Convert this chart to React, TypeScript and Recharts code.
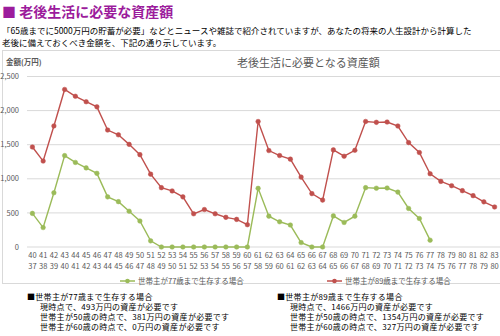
import { LineChart, Line, XAxis, YAxis, CartesianGrid, Legend } from 'recharts'

const ages = [
  40, 41, 42, 43, 44, 45, 46, 47, 48, 49, 50, 51, 52, 53, 54, 55, 56, 57, 58, 59, 60, 61,
  62, 63, 64, 65, 66, 67, 68, 69, 70, 71, 72, 73, 74, 75, 76, 77, 78, 79, 80, 81, 82, 83,
]
// second row of the tick labels (spouse age)
const spouseAges = [
  37, 38, 39, 40, 41, 42, 43, 44, 45, 46, 47, 48, 49, 50, 51, 52, 53, 54, 55, 56, 57, 58,
  59, 60, 61, 62, 63, 64, 65, 66, 67, 68, 69, 70, 71, 72, 73, 74, 75, 76, 77, 78, 79, 80,
]
const live77 = [
  493, 285, 795, 1340, 1240, 1160, 1080, 735, 665, 525, 381, 90, 0, 0, 0, 0, 0, 0, 0, 0, 0, 860,
  452, 370, 322, 65, 0, 0, 456, 360, 452, 870, 862, 865, 805, 565, 418, 100,
  null, null, null, null, null, null,
]
const live89 = [
  1466, 1260, 1775, 2310, 2210, 2130, 2055, 1715, 1645, 1505, 1354, 1068, 870, 822, 735, 487,
  549, 487, 435, 405, 327, 1840, 1414, 1341, 1288, 1025, 783, 688, 1424, 1331, 1418, 1841,
  1828, 1832, 1774, 1531, 1385, 1074, 962, 899, 826, 753, 662, 587,
]
const yTicks = [0, 500, 1000, 1500, 2000, 2500]

const RED = '#C0504D'
const GREEN = '#9BBB59'
const GRAY = '#595959'
const FONT = '"Noto Sans CJK JP", "Noto Sans", sans-serif'

const data = ages.map((a, i) => ({ age: a, spouse: spouseAges[i], live77: live77[i], live89: live89[i] }))

const AgeTick = ({ x, y, payload, index }: any) => (
  <text x={x} y={y} textAnchor="middle" fontSize={7.5} fill={GRAY} fontFamily={FONT}>
    <tspan x={x} dy={3}>{payload.value}</tspan>
    <tspan x={x} dy={11}>{spouseAges[index]}</tspan>
  </text>
)

const LegendContent = () => {
  const items = [
    { label: '世帯主が77歳まで生存する場合', color: GREEN, x: 120 },
    { label: '世帯主が89歳まで生存する場合', color: RED, x: 327 },
  ]
  return (
    <svg width={500} height={14}>
      {items.map((it) => (
        <g key={it.label}>
          <line x1={it.x} x2={it.x + 15} y1={7} y2={7} stroke={it.color} strokeWidth={1.5} />
          <circle cx={it.x + 7.5} cy={7} r={2.3} fill={it.color} />
          <text x={it.x + 18} y={10} fontSize={7.5} fill={GRAY} fontFamily={FONT}>
            {it.label}
          </text>
        </g>
      ))}
    </svg>
  )
}

const note = (title: string, lines: string[], left: number) => (
  <div
    style={{
      position: 'absolute', left, top: 292, fontSize: 8, lineHeight: '10px',
      letterSpacing: 0.3, color: '#000',
    }}
  >
    <div>{title}</div>
    {lines.map((l) => (
      <div key={l} style={{ paddingLeft: 13 }}>{l}</div>
    ))}
  </div>
)

export default function App() {
  return (
    <div
      style={{
        position: 'fixed', left: 0, top: 0, width: 500, height: 336, background: '#fff',
        fontFamily: FONT, overflow: 'hidden', whiteSpace: 'nowrap',
      }}
    >
      <div style={{ position: 'absolute', left: 2, top: 1, fontSize: 14, fontWeight: 'bold', color: '#9C1C9C' }}>
        ■ 老後生活に必要な資産額
      </div>
      <div style={{ position: 'absolute', left: 2, top: 24, fontSize: 8.5, lineHeight: '12px', color: '#000' }}>
        <div>「65歳までに5000万円の貯蓄が必要」などとニュースや雑誌で紹介されていますが、あなたの将来の人生設計から計算した</div>
        <div>老後に備えておくべき金額を、下記の通り示しています。</div>
      </div>

      <div
        style={{
          position: 'absolute', left: 2, top: 50, width: 520, height: 232,
          border: '1px solid #D9D9D9',
        }}
      />
      <div style={{ position: 'absolute', left: 6, top: 56, fontSize: 7.5, fontWeight: 'bold', color: GRAY }}>
        金額(万円)
      </div>
      <div style={{ position: 'absolute', left: 237, top: 54, fontSize: 11, color: GRAY }}>
        老後生活に必要となる資産額
      </div>

      <div style={{ position: 'absolute', left: 0, top: 50 }}>
        <LineChart width={500} height={233} data={data} margin={{ top: 26.5, right: 0, bottom: 6, left: 0 }}>
          <CartesianGrid horizontal vertical={false} stroke="#D9D9D9" />
          <XAxis
            dataKey="age"
            interval={0}
            axisLine={false}
            tickLine={false}
            padding={{ left: 5.4, right: 5.4 }}
            tick={<AgeTick />}
            height={30}
          />
          <YAxis
            domain={[0, 2500]}
            ticks={yTicks}
            width={27}
            axisLine={false}
            tickLine={false}
            tickFormatter={(v: number) => v.toLocaleString('en-US')}
            tick={{ fontSize: 7.5, fill: GRAY, fontFamily: FONT }}
          />
          <Legend
            verticalAlign="middle"
            align="center"
            content={<LegendContent />}
            wrapperStyle={{ position: 'absolute', left: 0, top: 219, width: 500 }}
          />
          <Line
            dataKey="live77"
            stroke={GREEN}
            strokeWidth={1.4}
            dot={{ r: 2.3, fill: GREEN, stroke: GREEN, strokeWidth: 0.5 }}
            isAnimationActive={false}
          />
          <Line
            dataKey="live89"
            stroke={RED}
            strokeWidth={1.4}
            dot={{ r: 2.3, fill: RED, stroke: RED, strokeWidth: 0.5 }}
            isAnimationActive={false}
          />
        </LineChart>
      </div>

      {note('■世帯主が77歳まで生存する場合', [
        '現時点で、493万円の資産が必要です',
        '世帯主が50歳の時点で、381万円の資産が必要です',
        '世帯主が60歳の時点で、0万円の資産が必要です',
      ], 27)}
      {note('■世帯主が89歳まで生存する場合', [
        '現時点で、1466万円の資産が必要です',
        '世帯主が50歳の時点で、1354万円の資産が必要です',
        '世帯主が60歳の時点で、327万円の資産が必要です',
      ], 277)}
    </div>
  )
}
